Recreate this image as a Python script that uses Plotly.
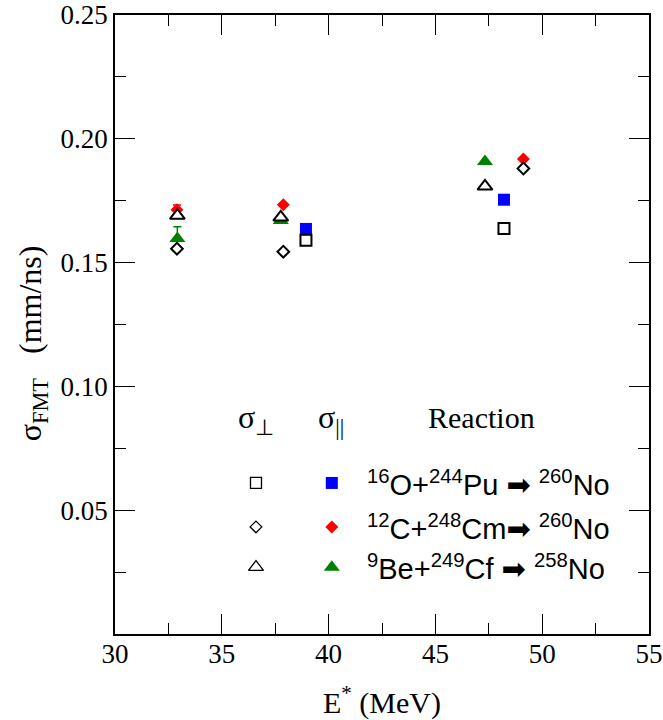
import plotly.graph_objects as go

# ---------------- data (E* in MeV, sigma in mm/ns) ----------------
reactions = ["O", "C", "Be"]
reaction_labels = [
    "<sup>16</sup>O+<sup>244</sup>Pu \u27a1 <sup>260</sup>No",
    "<sup>12</sup>C+<sup>248</sup>Cm\u27a1 <sup>260</sup>No",
    "<sup>9</sup>Be+<sup>249</sup>Cf \u27a1 <sup>258</sup>No",
]

E_O = [38.94, 48.21]
sig_par_O = [0.1636, 0.1754]
sig_perp_O = [0.1590, 0.1638]

E_C = [32.90, 37.88, 49.12]
sig_par_C = [0.1713, 0.1734, 0.1918]
err_par_C = [0.0020, 0.0, 0.0]
sig_perp_C = [0.1556, 0.1544, 0.1880]

E_Be = [32.92, 37.76, 47.32]
sig_par_Be = [0.1597, 0.1670, 0.1908]
err_par_Be = [0.0048, 0.0, 0.0]
sig_perp_Be = [0.1690, 0.1683, 0.1808]

x_ticks = [30, 35, 40, 45, 50, 55]
y_ticks = [0.05, 0.10, 0.15, 0.20, 0.25]
y_ticklabels = ["0.05", "0.10", "0.15", "0.20", "0.25"]

colors = {"O": "#0000ff", "C": "#ff0000", "Be": "#008000"}
filled_sym = {"O": "square", "C": "diamond", "Be": "triangle-up"}
filled_size = {"O": 12, "C": 10, "Be": 14}
open_size = {"O": 11, "C": 9, "Be": 13}

SERIF = "Liberation Serif, Times New Roman, serif"
SANS = "Liberation Sans, Arial, DejaVu Sans, sans-serif"

fig = go.Figure()

data = {
    "O": (E_O, sig_par_O, None, sig_perp_O),
    "C": (E_C, sig_par_C, err_par_C, sig_perp_C),
    "Be": (E_Be, sig_par_Be, err_par_Be, sig_perp_Be),
}

# filled (parallel) markers first
for r in reactions:
    E, spar, err, sperp = data[r]
    tr = dict(
        x=E, y=spar, mode="markers", showlegend=False,
        marker=dict(symbol=filled_sym[r], size=filled_size[r], color=colors[r],
                    line=dict(width=0)),
    )
    if err is not None:
        tr["error_y"] = dict(type="data", array=err, visible=True, color=colors[r],
                             thickness=1.5, width=4)
    fig.add_trace(go.Scatter(**tr))

# open (perpendicular) markers on top
for r in reactions:
    E, spar, err, sperp = data[r]
    fig.add_trace(go.Scatter(
        x=E, y=sperp, mode="markers", showlegend=False,
        marker=dict(symbol=filled_sym[r], size=open_size[r], color="white",
                    line=dict(width=2, color="black")),
    ))

# ---------------- in-plot legend (overlay axes 0..1) ----------------
leg_rows_y = [0.244, 0.173, 0.108]
leg_col_perp = 0.264
leg_col_par = 0.406
for i, r in enumerate(reactions):
    fig.add_trace(go.Scatter(
        x=[leg_col_perp], y=[leg_rows_y[i]], xaxis="x2", yaxis="y2",
        mode="markers", showlegend=False, hoverinfo="skip",
        marker=dict(symbol=filled_sym[r], size=open_size[r], color="white",
                    line=dict(width=1.3, color="black")),
    ))
    fig.add_trace(go.Scatter(
        x=[leg_col_par], y=[leg_rows_y[i]], xaxis="x2", yaxis="y2",
        mode="markers", showlegend=False, hoverinfo="skip",
        marker=dict(symbol=filled_sym[r], size=filled_size[r], color=colors[r],
                    line=dict(width=0)),
    ))
    fig.add_annotation(
        x=0.468, y=leg_rows_y[i], xref="x2", yref="y2", xanchor="left", yanchor="middle",
        text=reaction_labels[i], showarrow=False,
        font=dict(family=SANS, size=29, color="black"),
    )

fig.add_annotation(x=leg_col_perp, y=0.346, xref="x2", yref="y2", text="σ<sub>⊥</sub>",
                   showarrow=False, font=dict(family=SERIF, size=32, color="black"))
fig.add_annotation(x=leg_col_par - 0.002, y=0.346, xref="x2", yref="y2", text="σ<sub>||</sub>",
                   showarrow=False, font=dict(family=SERIF, size=32, color="black"))
fig.add_annotation(x=0.687, y=0.349, xref="x2", yref="y2", text="Reaction",
                   showarrow=False, font=dict(family=SERIF, size=30, color="black"))

# axis titles as annotations
fig.add_annotation(x=-0.155, y=0.47, xref="paper", yref="paper", textangle=-90,
                   text="σ<sub>FMT</sub>   (mm/ns)", showarrow=False,
                   xanchor="center", yanchor="middle",
                   font=dict(family=SERIF, size=32, color="black"))
fig.add_annotation(x=0.5, y=-0.107, xref="paper", yref="paper",
                   text="E<sup>*</sup> (MeV)", showarrow=False,
                   xanchor="center", yanchor="middle",
                   font=dict(family=SERIF, size=30, color="black"))

axis_common = dict(
    showline=True, linecolor="black", linewidth=1.6, mirror="ticks",
    ticks="inside", tickcolor="black", tickwidth=1.4, ticklen=20,
    showgrid=False, zeroline=False, automargin=False,
    tickfont=dict(family=SERIF, size=27, color="black"),
)

fig.update_layout(
    width=663, height=720,
    margin=dict(l=115, r=14, t=15, b=86, autoexpand=False),
    plot_bgcolor="white", paper_bgcolor="white",
    showlegend=False,
    xaxis=dict(range=[30, 55], tickvals=x_ticks, ticklabelstandoff=-5,
               minor=dict(ticks="inside", dtick=2.5, ticklen=11, tickcolor="black", tickwidth=1.4),
               **axis_common),
    yaxis=dict(range=[0, 0.25], tickvals=y_ticks, ticktext=y_ticklabels,
               minor=dict(ticks="inside", dtick=0.025, ticklen=11, tickcolor="black", tickwidth=1.4),
               **axis_common),
    xaxis2=dict(range=[0, 1], overlaying="x", visible=False, automargin=False),
    yaxis2=dict(range=[0, 1], overlaying="y", visible=False, automargin=False),
)

fig.write_html("out.html")
